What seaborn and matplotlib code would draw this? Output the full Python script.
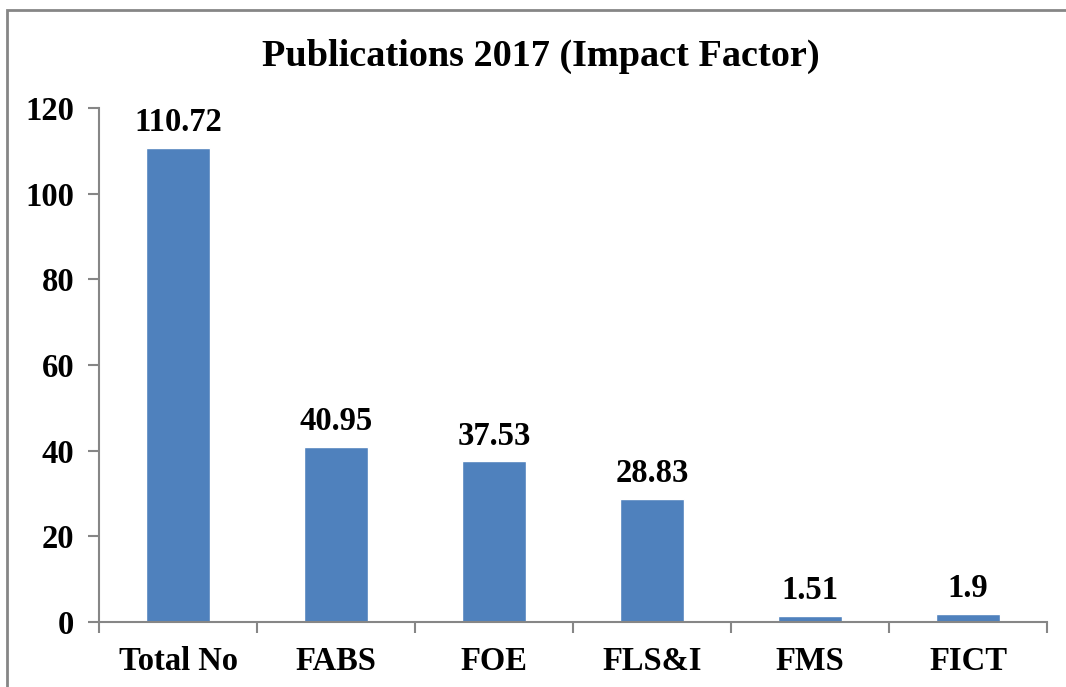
"""
Publications 2017 (Impact Factor) bar chart
"""

import matplotlib
matplotlib.use('Agg')
import matplotlib.pyplot as plt
import seaborn as sns
import pandas as pd
from matplotlib.patches import Rectangle

# Data
categories = ['Total No', 'FABS', 'FOE', 'FLS&I', 'FMS', 'FICT']
impact = [110.72, 40.95, 37.53, 28.83, 1.51, 1.9]
value_labels = ['110.72', '40.95', '37.53', '28.83', '1.51', '1.9']
y_ticks = [0, 20, 40, 60, 80, 100, 120]

df = pd.DataFrame({'Category': categories, 'Impact': impact})

sns.set_style('white')
plt.rcParams['font.family'] = ['Liberation Serif', 'DejaVu Serif']
plt.rcParams['font.weight'] = 'bold'
plt.rcParams['text.color'] = 'black'
plt.rcParams['xtick.color'] = 'black'
plt.rcParams['ytick.color'] = 'black'

bar_color = '#4F81BD'
axis_gray = '#868686'
fs = 23.5

fig = plt.figure(figsize=(10.66, 6.87), dpi=100)
ax = fig.add_axes([0.0929, 0.0946, 0.8893, 0.7482])

sns.barplot(data=df, x='Category', y='Impact', color=bar_color, width=0.4,
            saturation=1, ax=ax)

ax.set_xlim(-0.5, len(categories) - 0.5)
ax.set_ylim(0, 120)
ax.set_yticks(y_ticks)
ax.set_yticklabels([str(t) for t in y_ticks], fontsize=fs, fontweight='bold')
ax.set_xticklabels(categories, fontsize=fs, fontweight='bold')
ax.set_xlabel('')
ax.set_ylabel('')

# category boundary ticks on x axis
ax.set_xticks([i - 0.5 for i in range(len(categories) + 1)], minor=True)
ax.tick_params(axis='x', which='major', bottom=True, length=0, pad=17,
               labelcolor='black')
ax.tick_params(axis='x', which='minor', bottom=True, length=8, width=1.5,
               color=axis_gray, direction='out')
ax.tick_params(axis='y', left=True, length=8, width=1.5, color=axis_gray,
               direction='out', pad=10, labelcolor='black')

for side in ['top', 'right']:
    ax.spines[side].set_visible(False)
for side in ['left', 'bottom']:
    ax.spines[side].set_color(axis_gray)
    ax.spines[side].set_linewidth(1.5)

# value labels
for i, (v, lab) in enumerate(zip(impact, value_labels)):
    ax.annotate(lab, (i, v), xytext=(0, 7), textcoords='offset points',
                ha='center', va='bottom', fontsize=fs, fontweight='bold',
                color='black')

fig.text(0.507, 0.918, 'Publications 2017 (Impact Factor)', ha='center', va='center',
         fontsize=27.5, fontweight='bold', color='black')

# chart border
fig.patches.append(Rectangle((7 / 1066, -0.1), 1.2, 1 - 10 / 687 + 0.1,
                             transform=fig.transFigure, fill=False,
                             edgecolor=axis_gray, linewidth=2))

plt.savefig('out.png', dpi=100)
plt.close()
